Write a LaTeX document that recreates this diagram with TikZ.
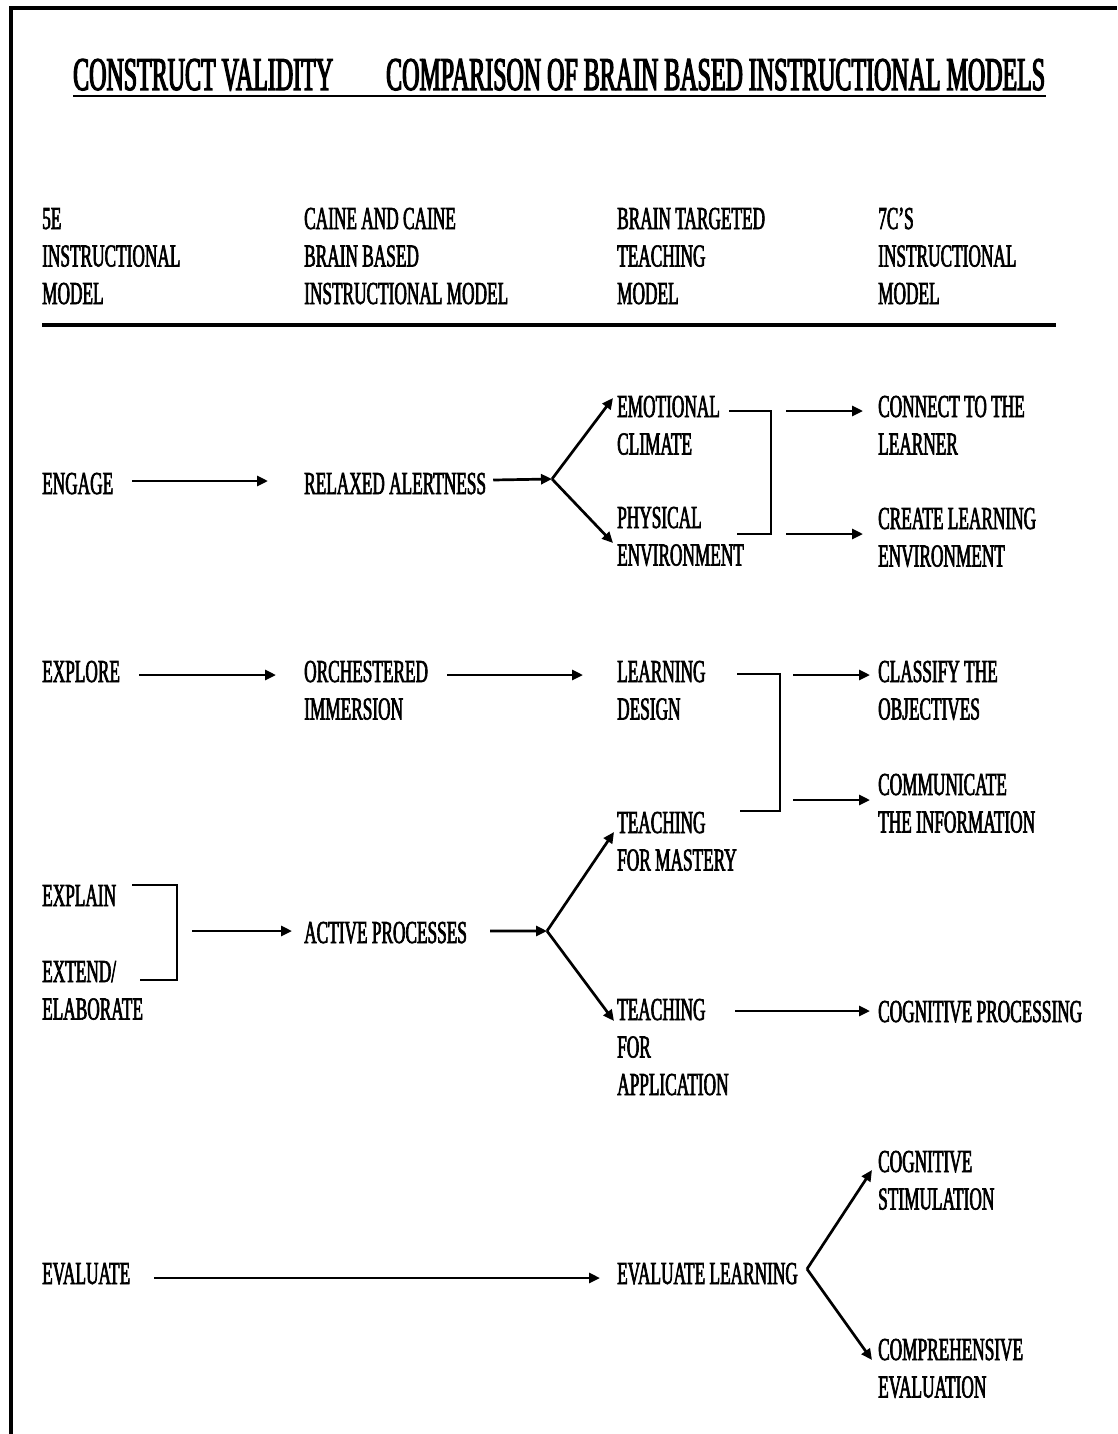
\documentclass[tikz,border=0pt]{standalone}
\usepackage{fontspec}
\setmainfont{Liberation Serif}[FakeStretch=0.54, FakeBold=2]
\newfontfamily\titlefont{Liberation Serif}[FakeStretch=0.51, FakeBold=2.5]
\usetikzlibrary{arrows.meta}

\begin{document}
% Multi-line labels are placed by the baseline of their last line.
\begin{tikzpicture}[x=1bp, y=-1bp,
  txt/.style={anchor=base west, inner sep=0pt, align=left,
              font=\fontsize{32bp}{37.5bp}\selectfont},
  ttl/.style={anchor=base west, inner sep=0pt,
              font=\titlefont\fontsize{47bp}{50bp}\selectfont},
  conn/.style={line width=2.7bp, line join=miter},
  arr/.style={conn, -{Triangle[length=11bp, width=10bp]}},
]
\useasboundingbox (0,0) rectangle (1117,1434);
\fill[white] (0,0) rectangle (1117,1434);

% frame on the left and top edges
\draw[line width=4bp] (10.5,1434) -- (10.5,8.5) -- (1117,8.5);

% title
\node[ttl] (t1) at (73,90) {CONSTRUCT VALIDITY};
\node[ttl] (t2) at (386,90) {COMPARISON OF BRAIN BASED INSTRUCTIONAL MODELS};
\draw[line width=2.4bp] ([shift={(0,6)}]t1.base west) -- ([shift={(1,6)}]t2.base east);

% column headings
\node[txt] (h1) at (42,304)  {5E\\INSTRUCTIONAL\\MODEL};
\node[txt] (h2) at (304,304) {CAINE AND CAINE\\BRAIN BASED\\INSTRUCTIONAL MODEL};
\node[txt] (h3) at (617,304) {BRAIN TARGETED\\TEACHING\\MODEL};
\node[txt] (h4) at (878,304) {7C'S\\INSTRUCTIONAL\\MODEL};
\draw[line width=4.5bp] (42,325) -- (1056,325);

% ---- engage ----
\node[txt] (engage)  at (42,494)    {ENGAGE};
\node[txt] (relax)   at (304,494)   {RELAXED ALERTNESS};
\node[txt] (emo)     at (617,454.5) {EMOTIONAL\\CLIMATE};
\node[txt] (phys)    at (617,565.5) {PHYSICAL\\ENVIRONMENT};
\node[txt] (connect) at (878,454.5) {CONNECT TO THE\\LEARNER};
\node[txt] (create)  at (878,566.5) {CREATE LEARNING\\ENVIRONMENT};

\draw[arr] ([shift={(19,-13)}]engage.base east) -- ([shift={(-36,-13)}]relax.base west);
\coordinate (j1) at ([shift={(-65,24.5)}]emo.base west);
\draw[arr] ([shift={(7,-14)}]relax.base east) -- (j1);
\draw[arr] (j1) -- ([shift={(-4,-56.5)}]emo.base west);
\draw[arr] (j1) -- ([shift={(-4,-22.5)}]phys.base west);
\coordinate (b1) at ([shift={(154,-43.5)}]emo.base west);
\draw[conn] ([shift={(112,-43.5)}]emo.base west) -| ([shift={(154,-31.5)}]phys.base west)
            -- ([shift={(120,-31.5)}]phys.base west);
\draw[arr] ([shift={(15,0)}]b1) -- ([shift={(-15,-43.5)}]connect.base west);
\draw[arr] ([shift={(15,123)}]b1) -- ([shift={(-15,-32.5)}]create.base west);

% ---- explore ----
\node[txt] (explore)  at (42,682)    {EXPLORE};
\node[txt] (orch)     at (304,719.5) {ORCHESTERED\\IMMERSION};
\node[txt] (ldesign)  at (617,719.5) {LEARNING\\DESIGN};
\node[txt] (classify) at (878,719.5) {CLASSIFY THE\\OBJECTIVES};
\node[txt] (commun)   at (878,832.5) {COMMUNICATE\\THE INFORMATION};
\node[txt] (mastery)  at (617,870.5) {TEACHING\\FOR MASTERY};

\draw[arr] ([shift={(19,-7)}]explore.base east) -- ([shift={(-28,-44.5)}]orch.base west);
\draw[arr] ([shift={(19,-44.5)}]orch.base east) -- ([shift={(-34,-44.5)}]ldesign.base west);
\coordinate (b2) at ([shift={(163,-45.5)}]ldesign.base west);
\draw[conn] ([shift={(120,-45.5)}]ldesign.base west) -| ([shift={(163,-59.5)}]mastery.base west)
            -- ([shift={(123,-59.5)}]mastery.base west);
\draw[arr] ([shift={(13,1)}]b2) -- ([shift={(-8,-44.5)}]classify.base west);
\draw[arr] ([shift={(13,126)}]b2) -- ([shift={(-8,-32.5)}]commun.base west);

% ---- explain / extend ----
\node[txt] (explain) at (42,906)    {EXPLAIN};
\node[txt] (extend)  at (42,1019.5) {EXTEND/\\ELABORATE};
\node[txt] (active)  at (304,943)   {ACTIVE PROCESSES};
\node[txt] (applic)  at (617,1095)  {TEACHING\\FOR\\APPLICATION};
\node[txt] (cogproc) at (878,1022)  {COGNITIVE PROCESSING};

\coordinate (b3) at ([shift={(135,-21)}]explain.base west);
\draw[conn] ([shift={(90,-21)}]explain.base west) -| ([shift={(135,-39.5)}]extend.base west)
            -- ([shift={(98,-39.5)}]extend.base west);
\draw[arr] ([shift={(15,46)}]b3) -- ([shift={(-12,-12)}]active.base west);
\coordinate (j2) at ([shift={(-70,60.5)}]mastery.base west);
\draw[arr] ([shift={(23,-12)}]active.base east) -- (j2);
\draw[arr] (j2) -- ([shift={(-3,-38.5)}]mastery.base west);
\draw[arr] (j2) -- ([shift={(-3,-74)}]applic.base west);
\draw[arr] ([shift={(118,-84)}]applic.base west) -- ([shift={(-8,-11)}]cogproc.base west);

% ---- evaluate ----
\node[txt] (evaluate) at (42,1284)    {EVALUATE};
\node[txt] (evlearn)  at (617,1284)   {EVALUATE LEARNING};
\node[txt] (cogstim)  at (878,1209.5) {COGNITIVE\\STIMULATION};
\node[txt] (compeval) at (878,1397.5) {COMPREHENSIVE\\EVALUATION};

\draw[arr] ([shift={(24,-6)}]evaluate.base east) -- ([shift={(-17,-6)}]evlearn.base west);
\coordinate (j3) at ([shift={(190,-15)}]evlearn.base west);
\draw[arr] (j3) -- ([shift={(-6,-39.5)}]cogstim.base west);
\draw[arr] (j3) -- ([shift={(-6,-37.5)}]compeval.base west);
\end{tikzpicture}
\end{document}
